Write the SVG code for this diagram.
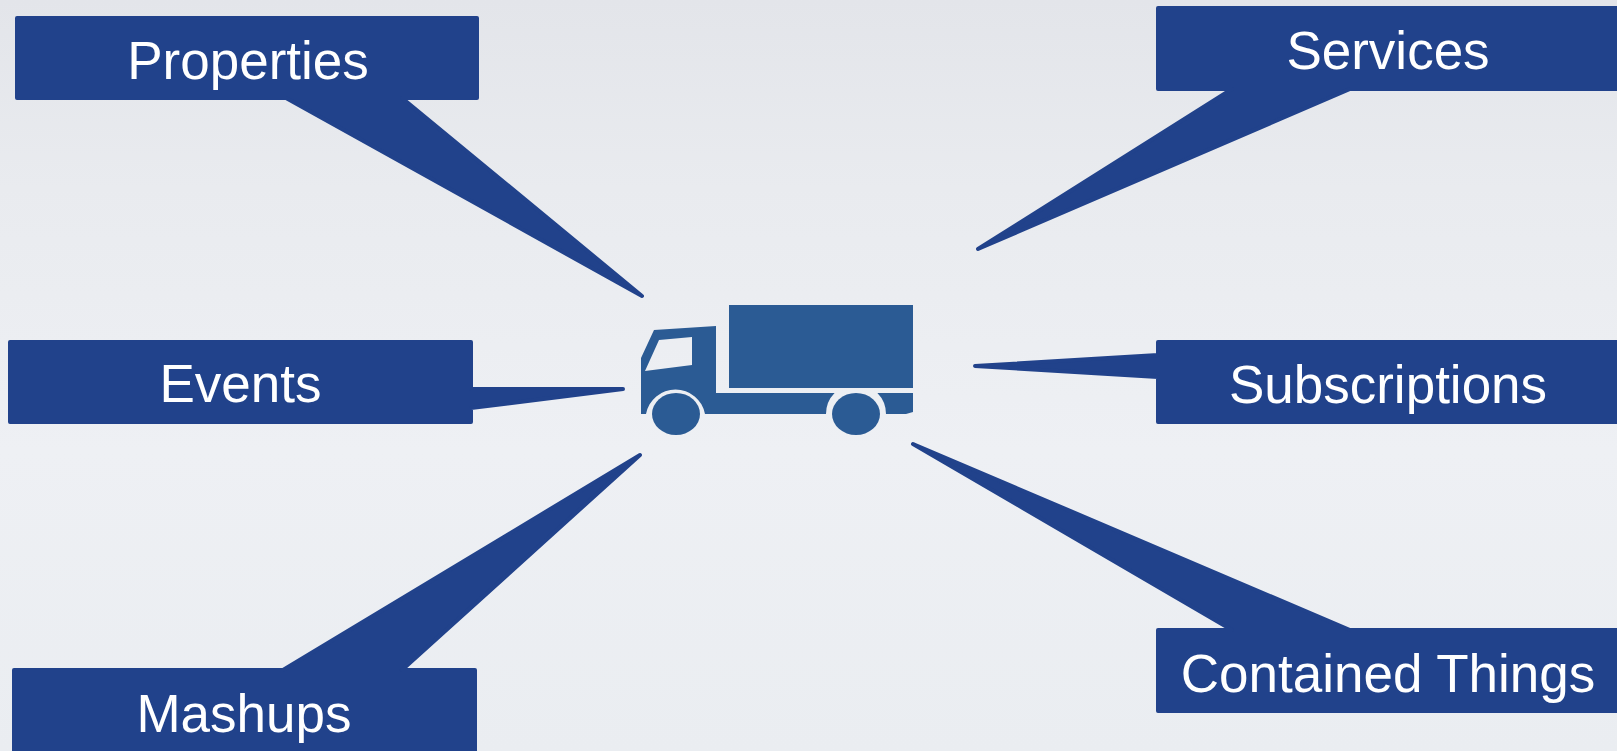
<svg xmlns="http://www.w3.org/2000/svg" width="1617" height="751" viewBox="0 0 1617 751">
<defs>
<linearGradient id="bg" x1="0" y1="0" x2="0" y2="1"><stop offset="0" stop-color="#e3e5ea"/><stop offset="0.25" stop-color="#e9ebef"/><stop offset="0.6" stop-color="#eef0f4"/><stop offset="1" stop-color="#eaedf1"/></linearGradient>
</defs>
<style>
.box{fill:#21428b;stroke:#21428b;stroke-width:4;stroke-linejoin:round}
.lbl{font-family:"Liberation Sans",Arial,sans-serif;font-size:53px;fill:#fff;text-anchor:middle}
.truck{fill:#2b5b94}
</style>
<rect width="1617" height="751" fill="url(#bg)"/>
<g id="connectors"></g>
<g id="properties"><path class="box" d="M17 18H477V98H402L642 296L286 98H17Z"/><text class="lbl" x="248" y="78.500">Properties</text></g>
<g id="services"><path class="box" d="M1158 8H1619V89H1350L978 249L1232 89H1158Z"/><text class="lbl" x="1388" y="69">Services</text></g>
<g id="events"><path class="box" d="M10 342H471V389L623 389L471 408V422H10Z"/><text class="lbl" x="240.500" y="402">Events</text></g>
<g id="subscriptions"><path class="box" d="M1158 342H1619V422H1158V377L975 366L1158 355Z"/><text class="lbl" x="1388" y="403">Subscriptions</text></g>
<g id="mashups"><path class="box" d="M14 670H283L640 455L402 670H475V753H14Z"/><text class="lbl" x="244" y="732">Mashups</text></g>
<g id="contained-things"><path class="box" d="M1158 630H1232L913 444L1350 630H1619V711H1158Z"/><text class="lbl" x="1388" y="692">Contained Things</text></g>
<g id="truck">
<rect class="truck" x="729" y="305" width="184" height="83"/>
<path class="truck" fill-rule="evenodd" d="M641 358L654 330L716 326V393H834.600A30 30 0 0 0 826 414H705A30 30 0 0 0 646 414H641ZM645 371L659 340L692 337V365Z"/>
<path class="truck" d="M877.400 393H913V412L906 414H886A30 30 0 0 0 877.400 393Z"/>
<ellipse class="truck" cx="676" cy="414" rx="24" ry="21"/>
<ellipse class="truck" cx="856" cy="414" rx="24" ry="21"/>
</g>
</svg>
